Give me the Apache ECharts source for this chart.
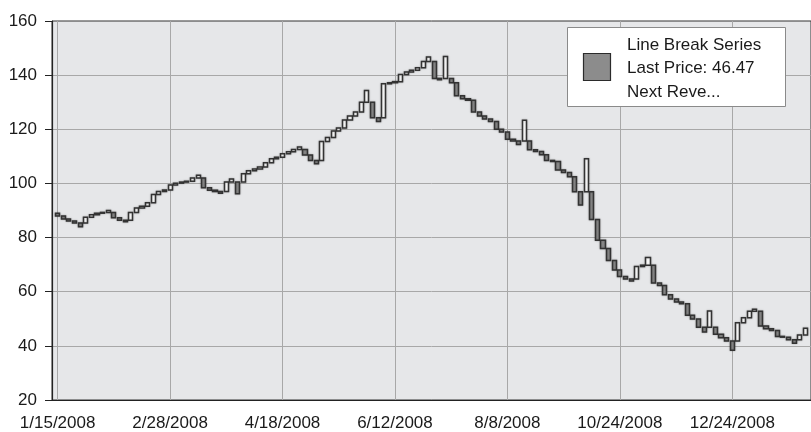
<!DOCTYPE html>
<html>
<head>
<meta charset="utf-8">
<script src="https://cdn.jsdelivr.net/npm/echarts@6/dist/echarts.min.js"></script>
<style>
  html, body { margin: 0; padding: 0; background: #fff; }
  #chart { width: 811px; height: 432px; }
</style>
</head>
<body>
<div id="chart"></div>
<script>
// line break boxes (close of each box)
const firstOpen = 89.0
const boxCloses = [
  88.0, 86.9, 86.1, 85.4, 84.0, 87.5, 88.4, 89.0, 89.3, 90.0,
  87.3, 86.4, 85.8, 89.3, 90.9, 91.6, 92.9, 95.9, 97.0, 97.6,
  99.4, 100.1, 100.5, 100.8, 102.0, 103.0, 98.4, 97.5, 97.0, 96.4,
  100.5, 101.6, 96.2, 103.6, 104.7, 105.3, 106.1, 107.6, 109.1, 109.7,
  111.0, 111.7, 112.5, 113.5, 110.5, 108.5, 107.3, 115.5, 117.0, 119.4,
  120.5, 123.4, 124.9, 126.4, 130.0, 134.3, 124.3, 122.9, 136.8, 137.2,
  137.6, 140.2, 141.2, 141.8, 142.7, 145.0, 146.7, 138.8, 138.3, 146.9,
  137.2, 132.4, 131.3, 130.7, 126.4, 124.9, 123.8, 122.9, 120.0, 119.0,
  116.3, 115.7, 114.4, 123.3, 112.4, 111.8, 110.6, 108.5, 108.1, 105.0,
  104.0, 102.5, 96.9, 92.0, 109.1, 86.7, 79.0, 76.0, 71.5, 68.0,
  65.6, 64.7, 64.0, 69.3, 69.8, 72.6, 63.2, 62.3, 58.9, 57.3,
  56.2, 55.6, 51.3, 49.9, 46.9, 45.1, 52.9, 44.3, 43.0, 41.8,
  38.4, 48.5, 50.4, 52.8, 53.5, 47.3, 46.3, 45.7, 43.5, 43.2,
  42.3, 41.0, 44.0, 46.47
]
// dates shown under every 20th box
const dateLabels = ['1/15/2008', '2/28/2008', '4/18/2008', '6/12/2008', '8/8/2008', '10/24/2008', '12/24/2008']
const labelEvery = 20
const yTicks = { min: 20, max: 160, step: 20 }
const legendLines = ['Line Break Series', 'Last Price: 46.47', 'Next Reve...']

// categories run from one slot before the first box to one after the last
const categories = []
for (let i = -1; i <= boxCloses.length; i++) categories.push(String(i))

function isLabelSlot(index) {
  const box = index - 1
  return box >= 0 && box % labelEvery === 0 && box / labelEvery < dateLabels.length
}

// a reversal box starts at the open of the previous box, otherwise at its close
const boxes = []
let prevOpen = null
let prevClose = null
boxCloses.forEach((close, i) => {
  let open
  if (i === 0) {
    open = firstOpen
  } else {
    const prevUp = prevClose > prevOpen
    const sameWay = prevUp ? close > prevClose : close < prevClose
    open = sameWay ? prevClose : prevOpen
  }
  boxes.push([i + 1, open, close, Math.min(open, close), Math.max(open, close)])
  prevOpen = open
  prevClose = close
})

const font = '"Liberation Sans", Arial, sans-serif'
const chart = echarts.init(document.getElementById('chart'))
chart.setOption({
  animation: false,
  backgroundColor: '#ffffff',
  grid: {
    left: 52,
    top: 21,
    bottom: 29,
    width: 5.656 * (categories.length - 1),
    show: true,
    backgroundColor: '#e6e7e9',
    borderColor: '#333333',
    borderWidth: 1
  },
  xAxis: {
    type: 'category',
    data: categories,
    boundaryGap: false,
    axisLine: { lineStyle: { color: '#222222', width: 1.2 } },
    axisTick: { show: false },
    axisLabel: {
      interval: (index) => isLabelSlot(index),
      formatter: (value) => dateLabels[(Number(value)) / labelEvery],
      color: '#1a1a1a',
      fontSize: 17,
      fontFamily: font,
      margin: 15
    },
    splitLine: {
      show: true,
      interval: (index) => isLabelSlot(index),
      lineStyle: { color: '#a8a8a8', width: 1 }
    }
  },
  yAxis: {
    type: 'value',
    min: yTicks.min,
    max: yTicks.max,
    interval: yTicks.step,
    axisLine: { show: true, lineStyle: { color: '#222222', width: 1.2 } },
    axisTick: { show: true, length: 7, lineStyle: { color: '#222222' } },
    axisLabel: { color: '#1a1a1a', fontSize: 17, fontFamily: font, margin: 15 },
    splitLine: { show: true, showMaxLine: false, lineStyle: { color: '#a8a8a8', width: 1 } }
  },
  series: [
    {
      name: 'Line Break Series',
      type: 'candlestick',
      data: boxes,
      encode: { x: 0, y: [1, 2, 3, 4] },
      barWidth: 4.6,
      itemStyle: {
        color: '#ffffff',
        color0: '#8a8a8a',
        borderColor: '#333333',
        borderColor0: '#333333',
        borderWidth: 1.5,
        shadowBlur: 2,
        shadowColor: 'rgba(0, 0, 0, 0.25)'
      }
    }
  ],
  graphic: [
    {
      type: 'rect',
      shape: { x: 567.5, y: 27.5, width: 218, height: 79 },
      style: { fill: '#ffffff', stroke: '#8a8a8a', lineWidth: 1 },
      z: 100
    },
    {
      type: 'rect',
      shape: { x: 583.5, y: 53.5, width: 27, height: 27 },
      style: { fill: '#8c8c8c', stroke: '#2b2b2b', lineWidth: 1.2 },
      z: 101
    },
    ...legendLines.map((line, i) => ({
      type: 'text',
      x: 627,
      y: 45 + i * 23.5,
      style: {
        text: line,
        fill: '#1a1a1a',
        font: '17px ' + font,
        verticalAlign: 'middle'
      },
      z: 101
    }))
  ]
})
</script>
</body>
</html>
